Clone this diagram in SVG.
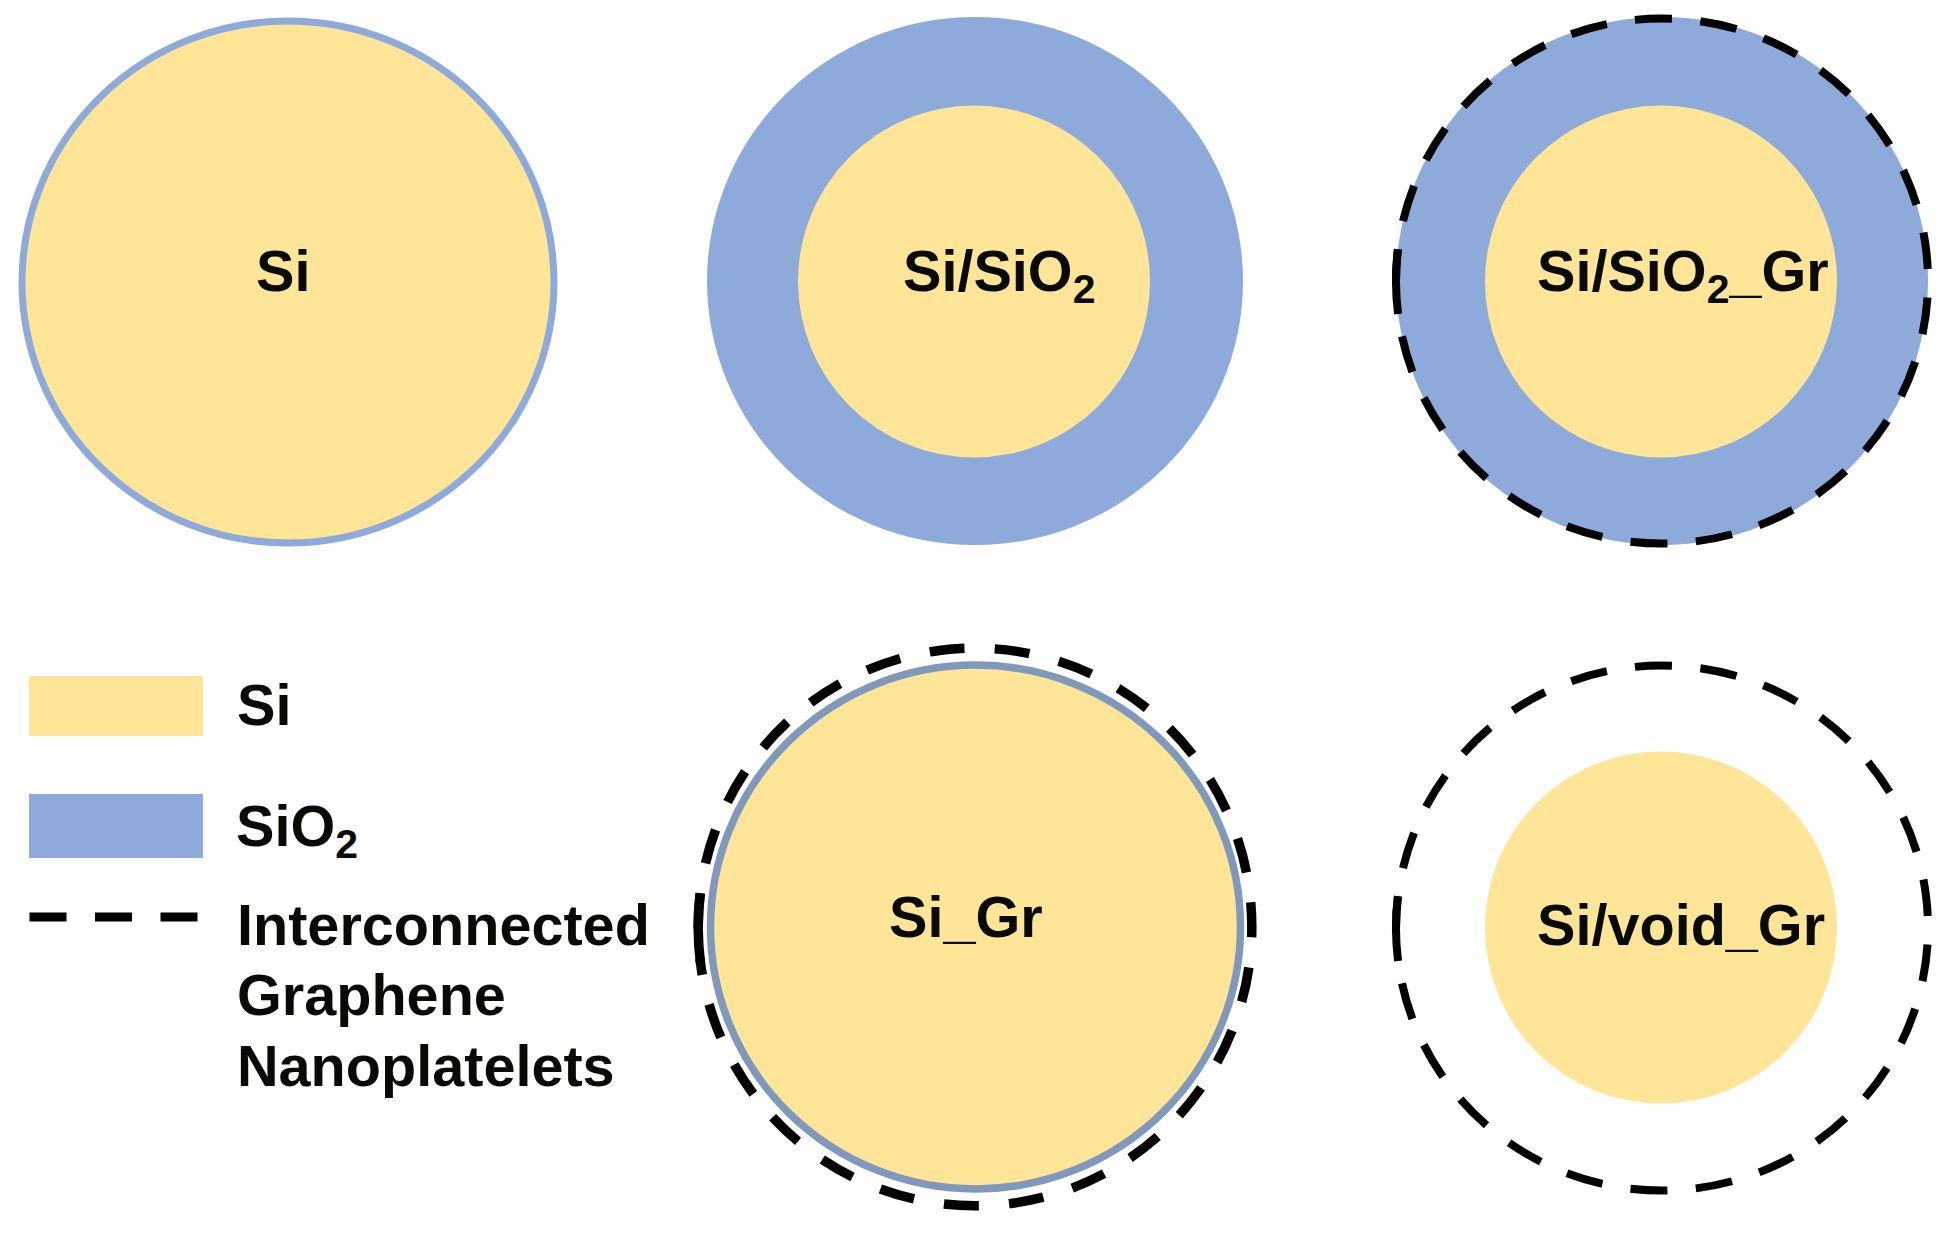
<svg xmlns="http://www.w3.org/2000/svg" width="1952" height="1234" viewBox="0 0 1952 1234">
<style>
.si{fill:#fee597}
.ox{fill:#8eaadb}
.gr{fill:none;stroke:#000;stroke-width:8;stroke-dasharray:37 28.500;stroke-dashoffset:37.500}
.gr2{fill:none;stroke:#000;stroke-width:9.500;stroke-dasharray:35 30.300;stroke-dashoffset:30.300}
.seam{fill:none;stroke:#000;stroke-width:8;stroke-dasharray:65 2000}
.seam2{fill:none;stroke:#000;stroke-width:9.500;stroke-dasharray:70 2000}
.key{fill:none;stroke:#000;stroke-width:9;stroke-dasharray:37 28.500}
text{font-family:"Liberation Sans",Arial,sans-serif;font-weight:700;font-size:57.600px;fill:#0a0a05}
.sub{font-size:41px}
</style>
<rect width="1952" height="1234" fill="#fff"/>
<g id="node-si">
<ellipse class="si" cx="288" cy="282" rx="266" ry="261" stroke="#8eaadb" stroke-width="7"/>
<text x="256" y="291">Si</text>
</g>
<g id="node-si-sio2">
<ellipse class="ox" cx="975" cy="281" rx="268" ry="264"/>
<circle class="si" cx="974" cy="281.500" r="176"/>
<text x="903" y="291">Si/SiO<tspan class="sub" dy="12">2</tspan></text>
</g>
<g id="node-si-sio2-gr">
<ellipse class="ox" cx="1662" cy="281" rx="266" ry="264"/>
<circle class="si" cx="1661" cy="281.500" r="176"/>
<text x="1537" y="291">Si/SiO<tspan class="sub" dy="12">2</tspan><tspan dy="-12">_Gr</tspan></text>
</g>
<g id="node-si-gr">
<ellipse class="si" cx="975.500" cy="927" rx="265" ry="262" stroke="#8098bb" stroke-width="7.500"/>
<text x="889" y="937">Si_Gr</text>
</g>
<g id="node-si-void-gr">
<circle class="si" cx="1661" cy="927.500" r="176"/>
<text x="1537" y="945">Si/void_Gr</text>
</g>
<g id="legend">
<rect class="si" x="29" y="676" width="174" height="60"/>
<text x="237" y="725">Si</text>
<rect class="ox" x="29" y="794" width="174" height="64"/>
<text x="236" y="846">SiO<tspan class="sub" dy="12">2</tspan></text>
<text x="237" y="945">Interconnected</text>
<text x="237" y="1015">Graphene</text>
<text x="237" y="1086">Nanoplatelets</text>
</g>
<g id="connectors">
<path class="gr" d="M1398.100 314A265.500 262 0 1 1 1925.900 248A265.500 262 0 1 1 1398.100 314"/>
<path class="seam" d="M1398.100 314A265.500 262 0 1 1 1925.900 248"/>
<path class="gr2" d="M700.500 963A275 277 0 1 1 1249.500 891A275 277 0 1 1 700.500 963"/>
<path class="seam2" d="M700.500 963A275 277 0 1 1 1249.500 891"/>
<path class="gr" d="M1398.100 961A265.500 262 0 1 1 1925.900 895A265.500 262 0 1 1 1398.100 961"/>
<path class="seam" d="M1398.100 961A265.500 262 0 1 1 1925.900 895"/>
<path class="key" d="M29.500 917H198"/>
</g>
</svg>
